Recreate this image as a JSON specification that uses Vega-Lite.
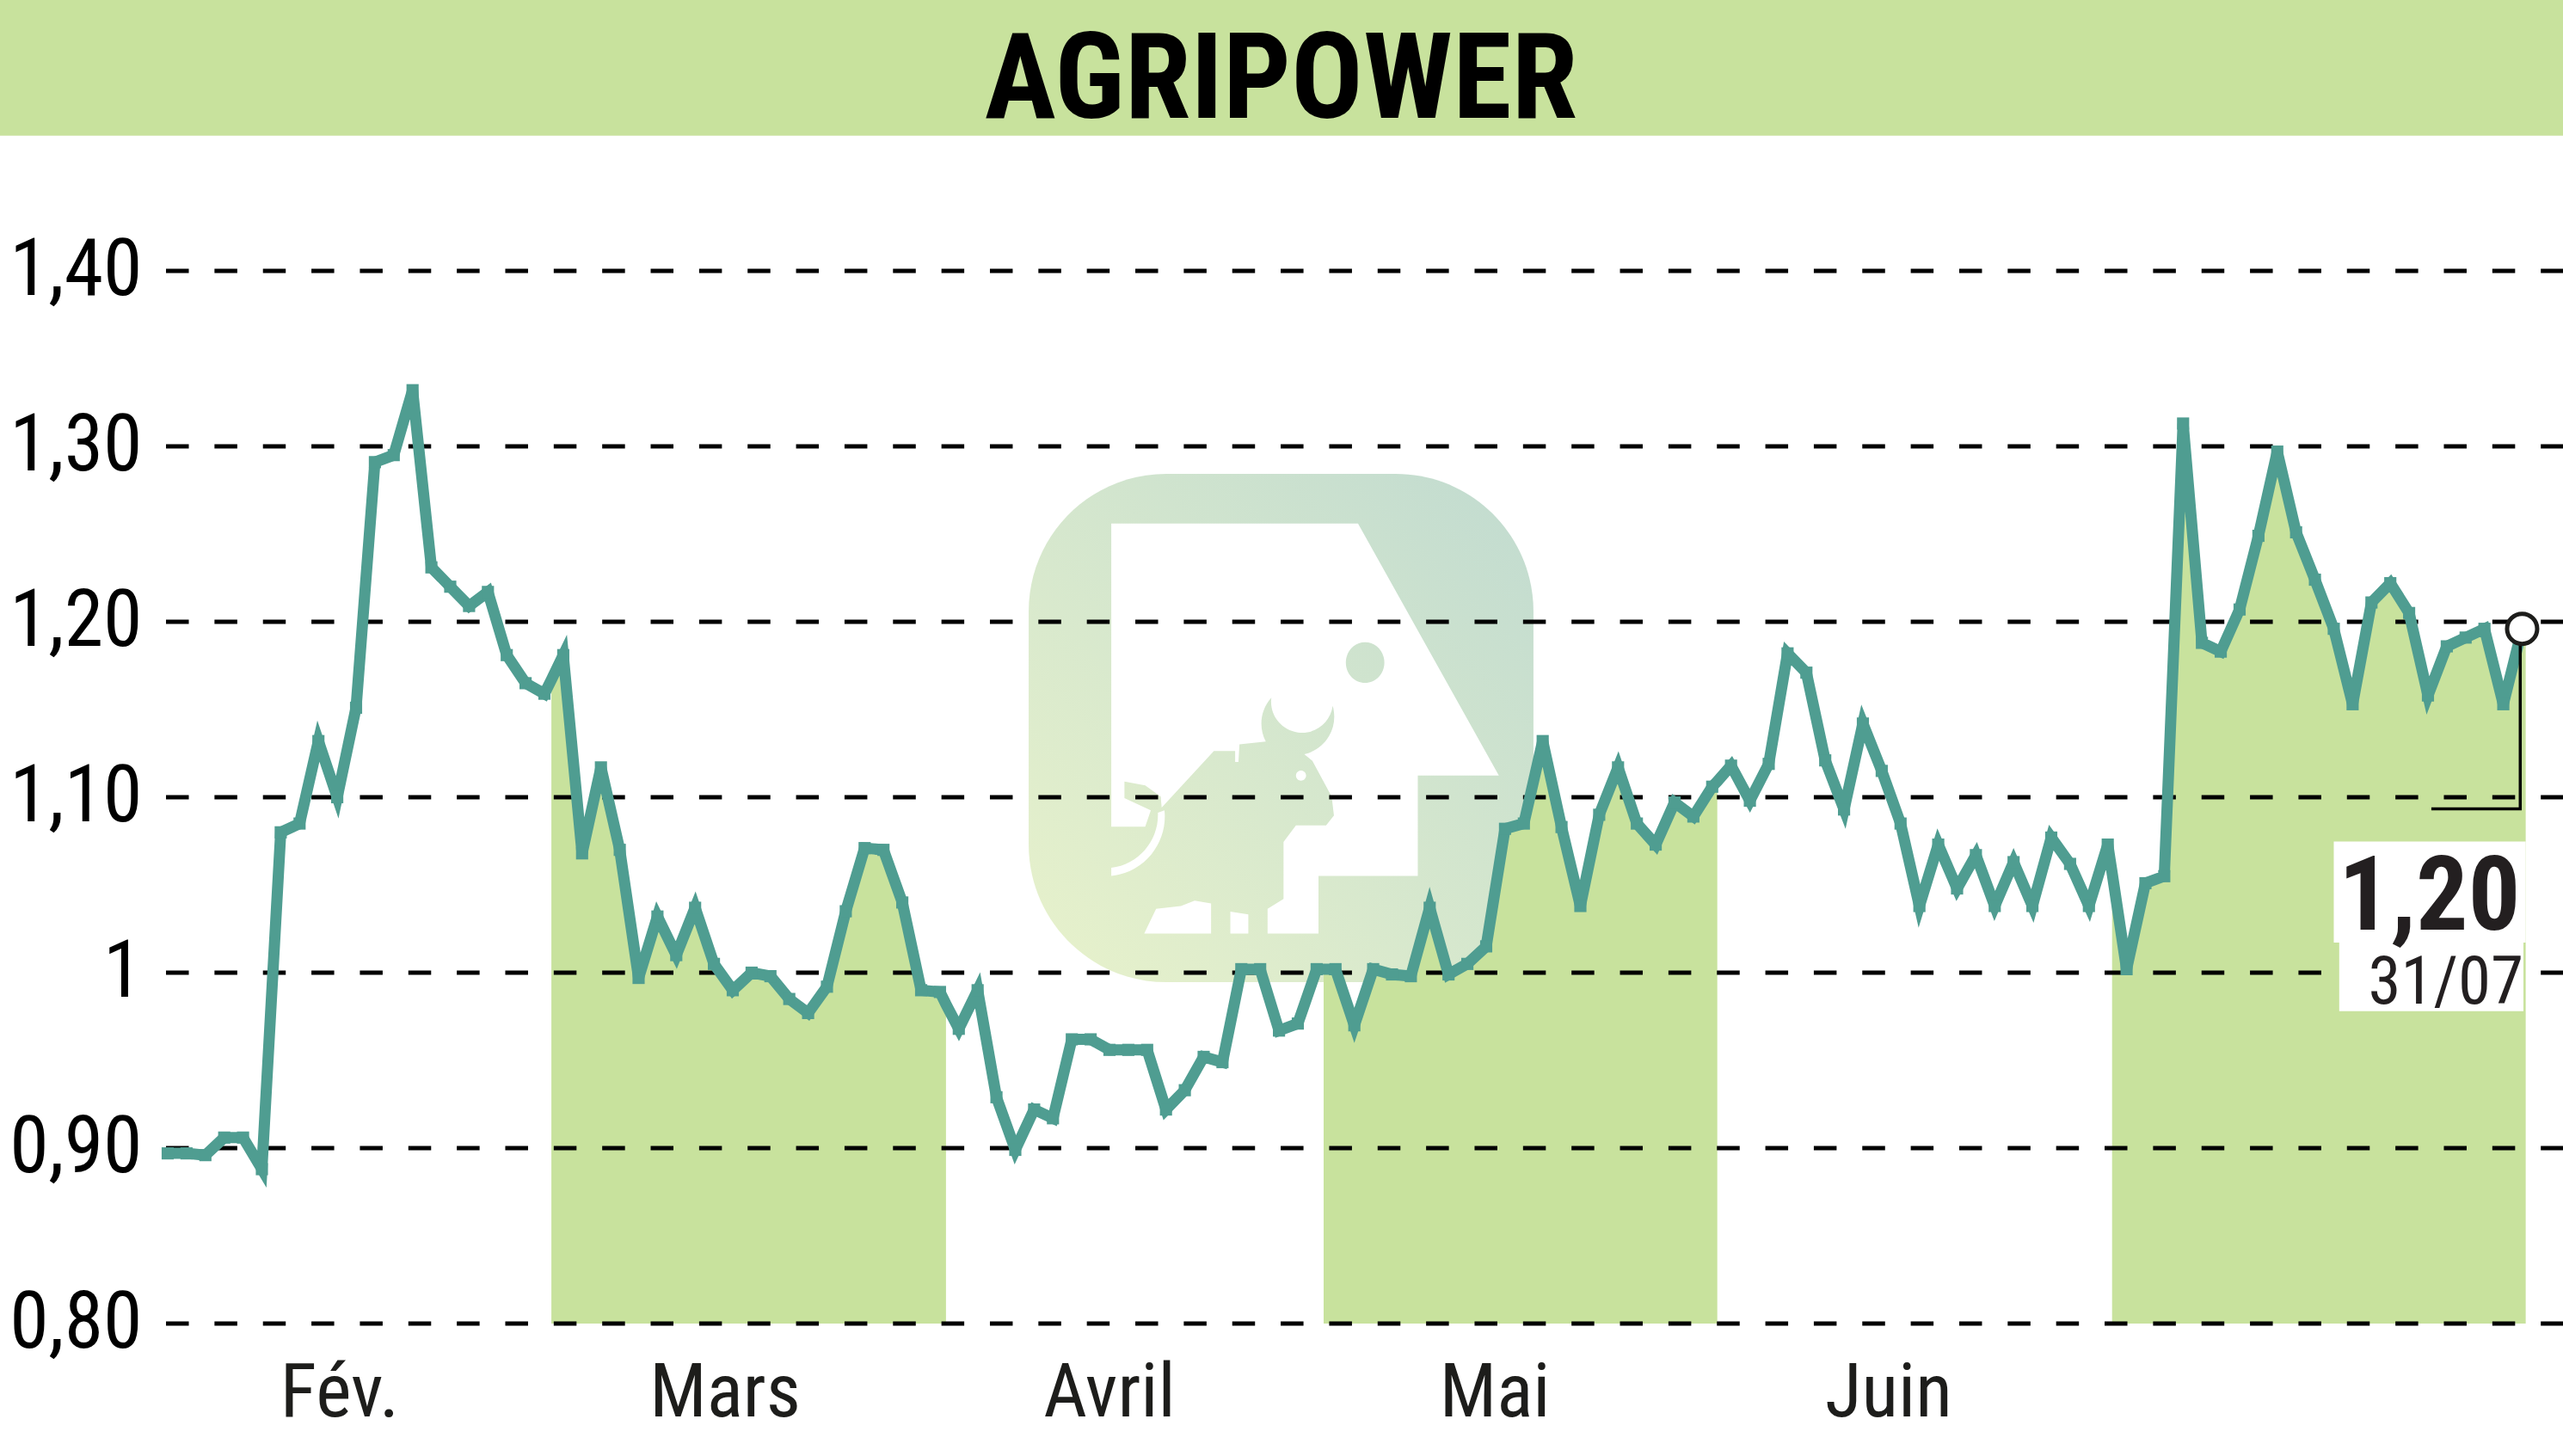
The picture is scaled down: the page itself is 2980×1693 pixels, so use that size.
{
  "$schema": "https://vega.github.io/schema/vega-lite/v6.json",
  "width": 2980,
  "height": 1693,
  "padding": 0,
  "autosize": {"type": "none"},
  "background": "#ffffff",
  "config": {"view": {"stroke": null}},
  "datasets": {
    "cours": [
      {"session": 0, "cours": 0.897}, {"session": 1, "cours": 0.897}, {"session": 2, "cours": 0.896},
      {"session": 3, "cours": 0.906}, {"session": 4, "cours": 0.906}, {"session": 5, "cours": 0.888},
      {"session": 6, "cours": 1.08}, {"session": 7, "cours": 1.085}, {"session": 8, "cours": 1.132},
      {"session": 9, "cours": 1.1}, {"session": 10, "cours": 1.151}, {"session": 11, "cours": 1.291},
      {"session": 12, "cours": 1.295}, {"session": 13, "cours": 1.332}, {"session": 14, "cours": 1.231},
      {"session": 15, "cours": 1.22}, {"session": 16, "cours": 1.209}, {"session": 17, "cours": 1.217},
      {"session": 18, "cours": 1.181}, {"session": 19, "cours": 1.165}, {"session": 20, "cours": 1.159},
      {"session": 20.37, "cours": 1.167, "zone": "Mars"},
      {"session": 21, "cours": 1.181, "zone": "Mars"}, {"session": 22, "cours": 1.068, "zone": "Mars"},
      {"session": 23, "cours": 1.117, "zone": "Mars"}, {"session": 24, "cours": 1.07, "zone": "Mars"},
      {"session": 25, "cours": 0.997, "zone": "Mars"}, {"session": 26, "cours": 1.032, "zone": "Mars"},
      {"session": 27, "cours": 1.01, "zone": "Mars"}, {"session": 28, "cours": 1.037, "zone": "Mars"},
      {"session": 29, "cours": 1.005, "zone": "Mars"}, {"session": 30, "cours": 0.99, "zone": "Mars"},
      {"session": 31, "cours": 1.0, "zone": "Mars"}, {"session": 32, "cours": 0.998, "zone": "Mars"},
      {"session": 33, "cours": 0.985, "zone": "Mars"}, {"session": 34, "cours": 0.977, "zone": "Mars"},
      {"session": 35, "cours": 0.992, "zone": "Mars"}, {"session": 36, "cours": 1.035, "zone": "Mars"},
      {"session": 37, "cours": 1.071, "zone": "Mars"}, {"session": 38, "cours": 1.07, "zone": "Mars"},
      {"session": 39, "cours": 1.04, "zone": "Mars"}, {"session": 40, "cours": 0.99, "zone": "Mars"},
      {"session": 41, "cours": 0.989, "zone": "Mars"},
      {"session": 41.32, "cours": 0.982, "zone": "Mars"},
      {"session": 42, "cours": 0.968}, {"session": 43, "cours": 0.99}, {"session": 44, "cours": 0.929},
      {"session": 45, "cours": 0.899}, {"session": 46, "cours": 0.922}, {"session": 47, "cours": 0.917},
      {"session": 48, "cours": 0.962}, {"session": 49, "cours": 0.962}, {"session": 50, "cours": 0.956},
      {"session": 51, "cours": 0.956}, {"session": 52, "cours": 0.956}, {"session": 53, "cours": 0.922},
      {"session": 54, "cours": 0.933}, {"session": 55, "cours": 0.952}, {"session": 56, "cours": 0.949},
      {"session": 57, "cours": 1.002}, {"session": 58, "cours": 1.002}, {"session": 59, "cours": 0.967},
      {"session": 60, "cours": 0.971}, {"session": 61, "cours": 1.002},
      {"session": 61.37, "cours": 1.002, "zone": "Mai"},
      {"session": 62, "cours": 1.002, "zone": "Mai"}, {"session": 63, "cours": 0.97, "zone": "Mai"},
      {"session": 64, "cours": 1.002, "zone": "Mai"}, {"session": 65, "cours": 0.999, "zone": "Mai"},
      {"session": 66, "cours": 0.998, "zone": "Mai"}, {"session": 67, "cours": 1.037, "zone": "Mai"},
      {"session": 68, "cours": 0.999, "zone": "Mai"}, {"session": 69, "cours": 1.005, "zone": "Mai"},
      {"session": 70, "cours": 1.015, "zone": "Mai"}, {"session": 71, "cours": 1.082, "zone": "Mai"},
      {"session": 72, "cours": 1.085, "zone": "Mai"}, {"session": 73, "cours": 1.132, "zone": "Mai"},
      {"session": 74, "cours": 1.083, "zone": "Mai"}, {"session": 75, "cours": 1.038, "zone": "Mai"},
      {"session": 76, "cours": 1.09, "zone": "Mai"}, {"session": 77, "cours": 1.117, "zone": "Mai"},
      {"session": 78, "cours": 1.085, "zone": "Mai"}, {"session": 79, "cours": 1.073, "zone": "Mai"},
      {"session": 80, "cours": 1.097, "zone": "Mai"}, {"session": 81, "cours": 1.089, "zone": "Mai"},
      {"session": 82, "cours": 1.106, "zone": "Mai"},
      {"session": 82.27, "cours": 1.109, "zone": "Mai"},
      {"session": 83, "cours": 1.118}, {"session": 84, "cours": 1.098}, {"session": 85, "cours": 1.119},
      {"session": 86, "cours": 1.182}, {"session": 87, "cours": 1.171}, {"session": 88, "cours": 1.121},
      {"session": 89, "cours": 1.093}, {"session": 90, "cours": 1.142}, {"session": 91, "cours": 1.115},
      {"session": 92, "cours": 1.085}, {"session": 93, "cours": 1.038}, {"session": 94, "cours": 1.073},
      {"session": 95, "cours": 1.048}, {"session": 96, "cours": 1.067}, {"session": 97, "cours": 1.038},
      {"session": 98, "cours": 1.063}, {"session": 99, "cours": 1.038}, {"session": 100, "cours": 1.077},
      {"session": 101, "cours": 1.062}, {"session": 102, "cours": 1.038}, {"session": 103, "cours": 1.073},
      {"session": 103.23, "cours": 1.057, "zone": "Juillet"},
      {"session": 104, "cours": 1.002, "zone": "Juillet"}, {"session": 105, "cours": 1.051, "zone": "Juillet"},
      {"session": 106, "cours": 1.055, "zone": "Juillet"}, {"session": 107, "cours": 1.313, "zone": "Juillet"},
      {"session": 108, "cours": 1.188, "zone": "Juillet"}, {"session": 109, "cours": 1.183, "zone": "Juillet"},
      {"session": 110, "cours": 1.207, "zone": "Juillet"}, {"session": 111, "cours": 1.249, "zone": "Juillet"},
      {"session": 112, "cours": 1.297, "zone": "Juillet"}, {"session": 113, "cours": 1.251, "zone": "Juillet"},
      {"session": 114, "cours": 1.224, "zone": "Juillet"}, {"session": 115, "cours": 1.196, "zone": "Juillet"},
      {"session": 116, "cours": 1.153, "zone": "Juillet"}, {"session": 117, "cours": 1.211, "zone": "Juillet"},
      {"session": 118, "cours": 1.222, "zone": "Juillet"}, {"session": 119, "cours": 1.205, "zone": "Juillet"},
      {"session": 120, "cours": 1.158, "zone": "Juillet"}, {"session": 121, "cours": 1.186, "zone": "Juillet"},
      {"session": 122, "cours": 1.191, "zone": "Juillet"}, {"session": 123, "cours": 1.196, "zone": "Juillet"},
      {"session": 124, "cours": 1.153, "zone": "Juillet"}, {"session": 125, "cours": 1.196, "zone": "Juillet"},
      {"session": 125.19, "cours": 1.19, "zone": "Juillet"}
    ],
    "niveaux": [
      {"niveau": 0.8}, {"niveau": 0.9}, {"niveau": 1.0}, {"niveau": 1.1},
      {"niveau": 1.2}, {"niveau": 1.3}, {"niveau": 1.4}
    ],
    "mois": [
      {"mois": "Fév.", "session": 9.13}, {"mois": "Mars", "session": 29.59},
      {"mois": "Avril", "session": 50.0}, {"mois": "Mai", "session": 70.46},
      {"mois": "Juin", "session": 91.37}
    ],
    "dernier": [
      {"session": 125, "cours": 1.196, "valeur": "1,20", "date": "31/07"}
    ],
    "repere": [
      {"ordre": 1, "session": 120.18, "cours": 1.0934},
      {"ordre": 2, "session": 124.9, "cours": 1.0934},
      {"ordre": 3, "session": 124.9, "cours": 1.19}
    ]
  },
  "layer": [
    {
      "data": {"values": [{"titre": "AGRIPOWER"}]},
      "mark": {"type": "rect", "color": "#c8e29d"},
      "encoding": {
        "x": {"datum": -8.904, "type": "quantitative", "axis": null, "scale": {"domain": [-8.904, 127.17], "nice": false, "zero": false}},
        "x2": {"datum": 127.17},
        "y": {"datum": 1.4771, "type": "quantitative", "scale": {"domain": [0.72451, 1.5544], "nice": false, "zero": false}, "axis": {
          "title": null,
          "values": [0.8, 0.9, 1.0, 1.1, 1.2, 1.3, 1.4],
          "labelExpr": "datum.value == 1 ? '1' : replace(format(datum.value, '.2f'), '.', ',')",
          "domain": false,
          "ticks": false,
          "grid": false,
          "offset": -165,
          "labelPadding": 0,
          "labelFont": "Roboto Condensed",
          "labelFontSize": 92,
          "labelColor": "#000000"
        }},
        "y2": {"datum": 1.5544}
      }
    },
    {
      "data": {"values": [{"titre": "AGRIPOWER"}]},
      "mark": {"type": "text", "font": "Roboto Condensed", "fontWeight": "bold", "fontSize": 139, "align": "center", "baseline": "alphabetic", "color": "#000000"},
      "encoding": {
        "x": {"datum": 59.11, "type": "quantitative"},
        "y": {"datum": 1.4872, "type": "quantitative"},
        "text": {"field": "titre"}
      }
    },
    {
      "data": {"values": [{"logo": "fond"}]},
      "mark": {
        "type": "rect",
        "cornerRadius": 160,
        "fill": {
          "gradient": "linear", "x1": 0, "y1": 1, "x2": 1, "y2": 0,
          "stops": [{"offset": 0, "color": "#e8f2cb"}, {"offset": 1, "color": "#c1dbd0"}]
        }
      },
      "encoding": {
        "x": {"datum": 45.71, "type": "quantitative"},
        "x2": {"datum": 72.51},
        "y": {"datum": 0.9946, "type": "quantitative"},
        "y2": {"datum": 1.2843}
      }
    },
    {
      "data": {"values": [{"logo": "taureau"}]},
      "mark": {
        "type": "point",
        "filled": true,
        "fill": "#ffffff",
        "opacity": 1,
        "size": 347000,
        "shape": "M-0.671 -0.807L0.303 -0.807L0.859 0.188L0.539 0.188L0.539 0.584L0.147 0.584L0.147 0.812L-0.054 0.812L-0.054 0.714L0.009 0.675L0.009 0.45L0.058 0.385L0.177 0.385L0.208 0.346L0.199 0.271L0.123 0.13L0.091 0.104A0.152 0.152 0 0 0 0.203 -0.087A0.121 0.121 0 1 1 -0.039 -0.119A0.152 0.152 0 0 0 -0.061 0.054L-0.165 0.065L-0.169 0.134L-0.182 0.134L-0.182 0.091L-0.266 0.091L-0.472 0.314L-0.476 0.271L-0.537 0.227L-0.619 0.212L-0.619 0.277L-0.515 0.325L-0.537 0.39L-0.671 0.39ZM0.255 -0.258A0.076 0.08 0 1 0 0.407 -0.258A0.076 0.08 0 1 0 0.255 -0.258ZM-0.541 0.812L-0.494 0.714L-0.396 0.703L-0.342 0.682L-0.277 0.693L-0.277 0.812ZM-0.201 0.725L-0.13 0.736L-0.13 0.812L-0.201 0.812ZM-0.671 0.584A0.235 0.235 0 0 0 -0.461 0.325L-0.487 0.335A0.21 0.21 0 0 1 -0.671 0.552ZM0.058 0.188A0.02 0.02 0 1 1 0.098 0.188A0.02 0.02 0 1 1 0.058 0.188Z"
      },
      "encoding": {
        "x": {"datum": 59.12, "type": "quantitative"},
        "y": {"datum": 1.1395, "type": "quantitative"}
      }
    },
    {
      "data": {"name": "cours"},
      "transform": [{"filter": "isValid(datum.zone)"}],
      "mark": {"type": "area", "color": "#c8e29d", "opacity": 1},
      "encoding": {
        "x": {"field": "session", "type": "quantitative"},
        "y": {"field": "cours", "type": "quantitative"},
        "y2": {"datum": 0.8},
        "detail": {"field": "zone"}
      }
    },
    {
      "data": {"name": "niveaux"},
      "mark": {"type": "rule", "color": "#000000", "strokeWidth": 5, "strokeDash": [26.5, 29.85]},
      "encoding": {
        "x": {"datum": -0.09, "type": "quantitative"},
        "x2": {"datum": 127.17},
        "y": {"field": "niveau", "type": "quantitative"}
      }
    },
    {
      "data": {"name": "cours"},
      "transform": [{"filter": "datum.session <= 125"}],
      "mark": {"type": "line", "color": "#4f9d91", "strokeWidth": 13, "strokeJoin": "miter"},
      "encoding": {
        "x": {"field": "session", "type": "quantitative"},
        "y": {"field": "cours", "type": "quantitative"}
      }
    },
    {
      "data": {"name": "cours"},
      "transform": [{"filter": "datum.session <= 125 && datum.session == floor(datum.session)"}],
      "mark": {"type": "point", "shape": "square", "filled": true, "color": "#4f9d91", "opacity": 1, "size": 200},
      "encoding": {
        "x": {"field": "session", "type": "quantitative"},
        "y": {"field": "cours", "type": "quantitative"}
      }
    },
    {
      "data": {"name": "repere"},
      "mark": {"type": "line", "color": "#000000", "strokeWidth": 3.5, "strokeJoin": "miter"},
      "encoding": {
        "x": {"field": "session", "type": "quantitative"},
        "y": {"field": "cours", "type": "quantitative"},
        "order": {"field": "ordre"}
      }
    },
    {
      "data": {"name": "dernier"},
      "mark": {"type": "point", "filled": true, "fill": "#ffffff", "stroke": "#1d1d1b", "strokeWidth": 5, "size": 1225, "opacity": 1},
      "encoding": {
        "x": {"field": "session", "type": "quantitative"},
        "y": {"field": "cours", "type": "quantitative"}
      }
    },
    {
      "data": {"name": "dernier"},
      "mark": {"type": "rect", "color": "#ffffff"},
      "encoding": {
        "x": {"datum": 115.0, "type": "quantitative"},
        "x2": {"datum": 125.19},
        "y": {"datum": 1.0172, "type": "quantitative"},
        "y2": {"datum": 1.0747}
      }
    },
    {
      "data": {"name": "dernier"},
      "mark": {"type": "rect", "color": "#ffffff"},
      "encoding": {
        "x": {"datum": 115.29, "type": "quantitative"},
        "x2": {"datum": 125.07},
        "y": {"datum": 0.978, "type": "quantitative"},
        "y2": {"datum": 1.0172}
      }
    },
    {
      "data": {"name": "dernier"},
      "mark": {"type": "text", "font": "Roboto Condensed", "fontWeight": "bold", "fontSize": 120, "align": "right", "baseline": "alphabetic", "color": "#231f20"},
      "encoding": {
        "x": {"datum": 124.9, "type": "quantitative"},
        "y": {"datum": 1.0247, "type": "quantitative"},
        "text": {"field": "valeur"}
      }
    },
    {
      "data": {"name": "dernier"},
      "mark": {"type": "text", "font": "Roboto Condensed", "fontSize": 77, "align": "right", "baseline": "alphabetic", "color": "#231f20"},
      "encoding": {
        "x": {"datum": 125.07, "type": "quantitative"},
        "y": {"datum": 0.9825, "type": "quantitative"},
        "text": {"field": "date"}
      }
    },
    {
      "data": {"name": "mois"},
      "mark": {"type": "text", "font": "Roboto Condensed", "fontSize": 88, "align": "center", "baseline": "alphabetic", "color": "#1d1d1b"},
      "encoding": {
        "x": {"field": "session", "type": "quantitative"},
        "y": {"datum": 0.747, "type": "quantitative"},
        "text": {"field": "mois"}
      }
    }
  ]
}
